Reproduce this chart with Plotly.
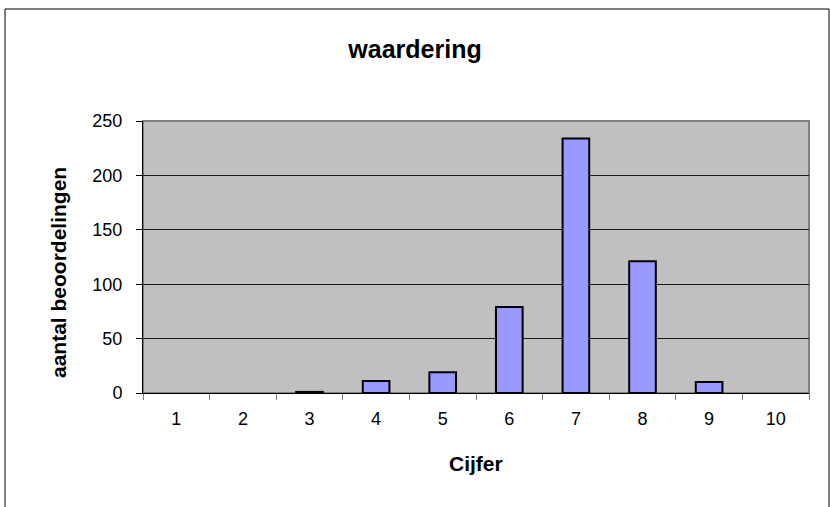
import plotly.graph_objects as go

categories = ["1", "2", "3", "4", "5", "6", "7", "8", "9", "10"]
counts = [0, 0, 1, 11, 19, 79, 234, 121, 10, 0]
y_ticks = [0, 50, 100, 150, 200, 250]

title_text = "waardering"
x_title = "Cijfer"
y_title = "aantal beoordelingen"

W, H = 830, 507
L, R, T, B = 143, 21, 121, 114
pw, ph = W - L - R, H - T - B

def px_x(p):
    return (p - L) / pw

def px_y(p):
    return (H - B - p) / ph

FONT = "Liberation Sans, Arial, sans-serif"

outline_widths = [2 if v > 0 else 0 for v in counts]

fig = go.Figure(
    go.Bar(
        x=categories,
        y=counts,
        width=0.4,
        marker=dict(color="#9999FF", line=dict(color="#000000", width=outline_widths)),
    )
)

fig.update_layout(
    width=W,
    height=H,
    margin=dict(l=L, r=R, t=T, b=B, autoexpand=False),
    paper_bgcolor="#FFFFFF",
    plot_bgcolor="#C0C0C0",
    showlegend=False,
    title=dict(
        text=title_text,
        x=0.5,
        xanchor="center",
        xref="container",
        y=1 - 49 / H,
        yanchor="middle",
        yref="container",
        font=dict(family=FONT, size=25, color="#000000", weight="bold"),
    ),
    font=dict(family=FONT, color="#000000"),
)

fig.update_xaxes(
    type="category",
    tickson="boundaries",
    ticks="outside",
    ticklen=6,
    tickcolor="#808080",
    tickwidth=1,
    showline=True,
    linecolor="#000000",
    linewidth=1,
    showgrid=False,
    tickfont=dict(family=FONT, size=18),
    ticklabelstandoff=9,
    range=[-0.5, 9.5],
)

fig.update_yaxes(
    range=[0, 250],
    tickvals=y_ticks,
    ticks="outside",
    ticklen=6,
    tickcolor="#000000",
    showline=True,
    linecolor="#000000",
    linewidth=1,
    showgrid=True,
    gridcolor="#1a1a1a",
    gridwidth=1,
    zeroline=False,
    tickfont=dict(family=FONT, size=18),
    ticklabelstandoff=10,
)

# plot-area border (gray)
fig.add_shape(
    type="rect", xref="x domain", yref="y domain", x0=0, x1=1, y0=0, y1=1,
    line=dict(color="#808080", width=2), layer="below",
)
# outer chart frame
fig.add_shape(
    type="rect", xref="paper", yref="paper",
    x0=px_x(5), x1=px_x(829), y0=px_y(520), y1=px_y(9),
    line=dict(color="#000000", width=1), layer="above",
)

fig.add_annotation(
    text=y_title, textangle=-90, xref="paper", yref="paper",
    x=px_x(58), y=px_y(273), xanchor="center", yanchor="middle", showarrow=False,
    font=dict(family=FONT, size=21, color="#000000", weight="bold"),
)
fig.add_annotation(
    text=x_title, xref="paper", yref="paper",
    x=px_x(476), y=px_y(463), xanchor="center", yanchor="middle", showarrow=False,
    font=dict(family=FONT, size=21, color="#000000", weight="bold"),
)

fig.write_html(
    "out.html",
    config={"displayModeBar": False, "staticPlot": True},
    post_script="document.body.style.margin='0px';document.body.style.overflow='hidden';",
)
